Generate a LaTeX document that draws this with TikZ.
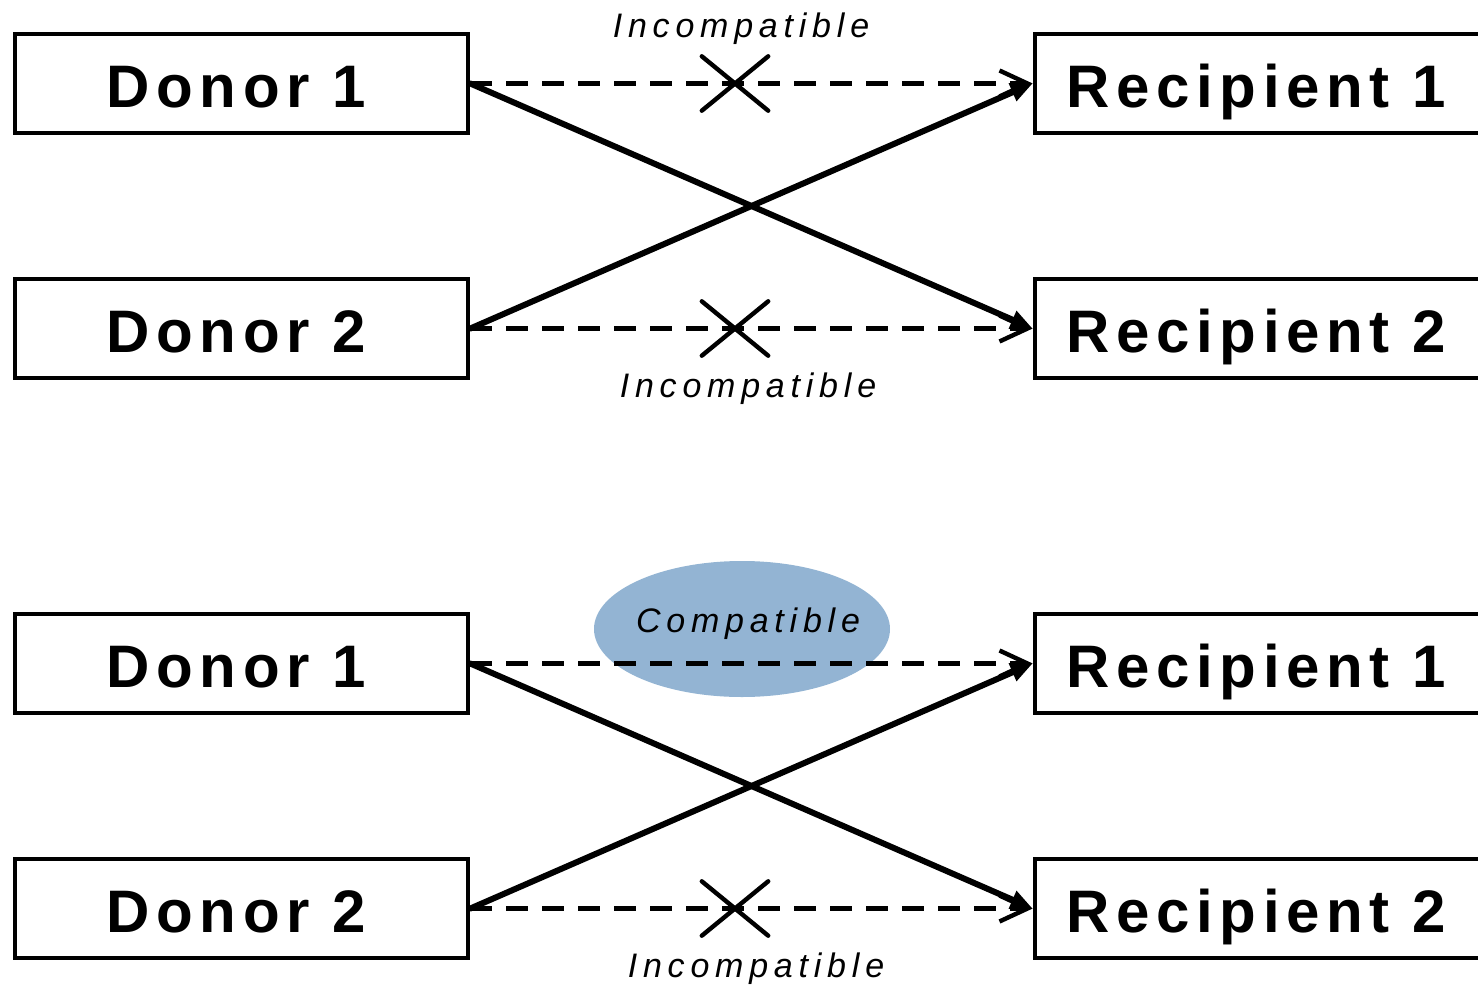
\documentclass[tikz,border=0pt]{standalone}
\usepackage{fontspec}
\setmainfont{Liberation Sans}
\newfontfamily\boxfont[LetterSpace=11]{Liberation Sans}
\newfontfamily\labelfont[LetterSpace=17]{Liberation Sans}
\usetikzlibrary{arrows.meta,shapes.geometric,shapes.misc}
\definecolor{paleblue}{RGB}{147,180,211}

\tikzset{
  party/.style={draw, line width=2.3pt, minimum width=226.5pt, minimum height=49.5pt,
    inner sep=0pt, text height=24pt, text depth=0pt,
    execute at end node={\kern5pt},
    font=\boxfont\bfseries\fontsize{30}{36}\selectfont},
  note/.style={anchor=base, inner sep=0pt, font=\labelfont\itshape\fontsize{17}{20}\selectfont},
  maybe/.style={line width=2.2pt, dash pattern=on 11pt off 7pt,
    -{Straight Barb[length=14pt,width=13pt,line width=2.2pt]}},
  match/.style={line width=3pt, line cap=round,
    -{Triangle[length=11pt,width=9pt]}},
  xmark/.style={cross out, draw, line width=2.2pt, line cap=round,
    minimum width=31pt, minimum height=25pt, inner sep=0pt},
  blob/.style={ellipse, fill=paleblue, minimum width=148pt, minimum height=68pt, inner sep=0pt}
}

\begin{document}
\begin{tikzpicture}[x=0.5pt, y=-0.5pt]
\useasboundingbox (0,0) rectangle (1478,985);

% ---------- upper pair: no compatible match ----------
\node[party] (d1) at (241.5,83.5) {Donor 1};
\node[party] (d2) at (241.5,328.5) {Donor 2};
\node[party] (r1) at (1261.5,83.5) {Recipient 1};
\node[party] (r2) at (1261.5,328.5) {Recipient 2};

\draw[maybe] (d1.east) -- (r1.west);
\draw[maybe] (d2.east) -- (r2.west);
\draw[match] (d1.east) -- (r2.west);
\draw[match] (d2.east) -- (r1.west);

\node[xmark] (x1) at (735,83.5) {};
\node[xmark] (x2) at (735,328.5) {};
\node[note] (n1) at (741,37) {Incompatible};
\node[note] (n2) at (748,397) {Incompatible};

% ---------- lower pair: donor 1 suits recipient 1 ----------
\node[blob] (ok) at (742,629) {};

\node[party] (d3) at (241.5,663.5) {Donor 1};
\node[party] (d4) at (241.5,908.5) {Donor 2};
\node[party] (r3) at (1261.5,663.5) {Recipient 1};
\node[party] (r4) at (1261.5,908.5) {Recipient 2};

\draw[maybe] (d3.east) -- (r3.west);
\draw[maybe] (d4.east) -- (r4.west);
\draw[match] (d3.east) -- (r4.west);
\draw[match] (d4.east) -- (r3.west);

\node[xmark] (x3) at (735,908.5) {};
\node[note] (n3) at (748,632) {Compatible};
\node[note] (n4) at (756,977) {Incompatible};
\end{tikzpicture}
\end{document}
